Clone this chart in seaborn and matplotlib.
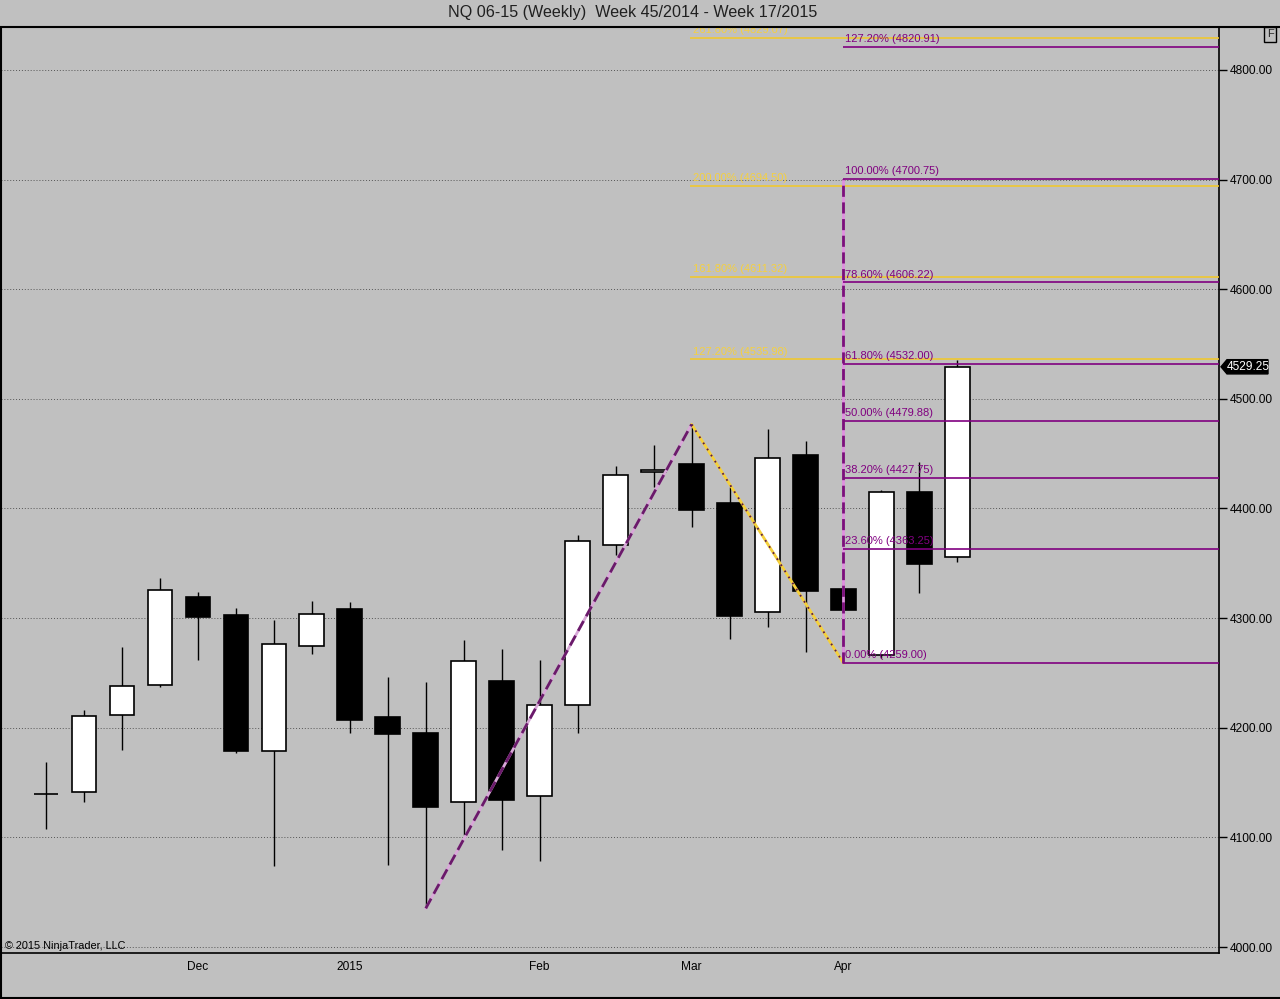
import numpy as np
import pandas as pd
import seaborn as sns
import matplotlib
matplotlib.use('Agg')
import matplotlib.pyplot as plt
import matplotlib.transforms as mtrans
from matplotlib.lines import Line2D
from matplotlib.patches import Polygon

##### Data

weeks = ['2014-11-07', '2014-11-14', '2014-11-21', '2014-11-28', '2014-12-05',
         '2014-12-12', '2014-12-19', '2014-12-26', '2015-01-02', '2015-01-09',
         '2015-01-16', '2015-01-23', '2015-01-30', '2015-02-06', '2015-02-13',
         '2015-02-20', '2015-02-27', '2015-03-06', '2015-03-13', '2015-03-20',
         '2015-03-27', '2015-04-03', '2015-04-10', '2015-04-17', '2015-04-24']

opens  = [4139.0, 4141.0, 4212.0, 4239.0, 4319.0, 4303.0, 4178.5, 4275.0, 4308.0, 4210.0,
          4195.0, 4132.5, 4243.0, 4137.5, 4220.5, 4367.0, 4433.0, 4440.5, 4405.0, 4306.0,
          4449.0, 4327.0, 4266.0, 4415.0, 4356.0]
highs  = [4169.0, 4216.0, 4274.0, 4336.5, 4324.0, 4309.0, 4298.0, 4315.5, 4315.0, 4246.5,
          4242.0, 4280.0, 4272.0, 4262.0, 4376.0, 4439.0, 4458.0, 4476.75, 4420.0, 4472.5,
          4461.5, 4333.0, 4416.5, 4442.0, 4535.5]
lows   = [4108.0, 4132.5, 4180.0, 4237.0, 4262.0, 4177.0, 4074.0, 4267.5, 4195.0, 4075.0,
          4035.25, 4102.0, 4088.5, 4078.5, 4195.0, 4357.5, 4420.0, 4383.0, 4281.0, 4292.0,
          4269.5, 4259.0, 4264.0, 4323.0, 4351.5]
closes = [4140.0, 4210.5, 4238.0, 4326.0, 4301.0, 4179.0, 4276.0, 4303.5, 4207.0, 4194.0,
          4127.5, 4260.5, 4134.5, 4221.0, 4370.0, 4431.0, 4435.5, 4398.5, 4302.0, 4446.5,
          4325.0, 4307.0, 4415.0, 4349.0, 4529.25]

# swing points for the drawing tools (bar index, price)
swing_idx = [10, 17, 21]
swing_px = [4035.25, 4476.75, 4259.00]

# fib retracement (purple) and extension (yellow) levels, as labelled
retr_pct = ['0.00%', '23.60%', '38.20%', '50.00%', '61.80%', '78.60%', '100.00%', '127.20%']
retr_val = [4259.00, 4363.25, 4427.75, 4479.88, 4532.00, 4606.22, 4700.75, 4820.91]
ext_pct = ['127.20%', '161.80%', '200.00%', '261.80%']
ext_val = [4535.98, 4611.32, 4694.50, 4829.07]

month_ticks = ['2014-12-05', '2015-01-02', '2015-02-06', '2015-03-06', '2015-04-03']
month_labels = ['Dec', '2015', 'Feb', 'Mar', 'Apr']

df = pd.DataFrame({'Date': pd.to_datetime(weeks), 'Open': opens, 'High': highs,
                   'Low': lows, 'Close': closes})
df['x'] = np.arange(len(df))

##### Style

sns.set_style('white')
plt.rcParams['font.family'] = ['Liberation Sans', 'DejaVu Sans']

BG = '#C0C0C0'
PURPLE = '#800080'
YELLOW = '#F0C830'

fig = plt.figure(figsize=(12.8, 9.99), dpi=100, facecolor=BG)
ax = fig.add_axes([0.0008, 0.046, 0.9516, 0.926])
ax.set_facecolor(BG)

####### Candles

for y in range(4000, 4801, 100):
    ax.axhline(y, color='#555555', ls=(0, (1, 2)), lw=0.7, zorder=1)

ax.vlines(df['x'], df['Low'], df['High'], color='black', lw=1, zorder=2)

up = df['Close'] >= df['Open']
body_lo = df[['Open', 'Close']].min(axis=1)
body_h = (df['Close'] - df['Open']).abs()
w = 0.65
for i in range(len(df)):
    if body_h[i] < 1.5:
        ax.hlines(df['Close'][i], i - w / 2, i + w / 2, color='black', lw=1.2, zorder=3)
        continue
    ax.bar(i, body_h[i], bottom=body_lo[i], width=w,
           color='white' if up[i] else 'black', edgecolor='black', lw=1.2, zorder=3)

####### Drawing tools

i_low, i_high, i_end = swing_idx
p_low, p_high, p_end = swing_px

# swing up: purple dashes
sns.lineplot(x=[i_low, i_high], y=[p_low, p_high], ax=ax, color='#D8A8D8', lw=2, zorder=5)
ax.plot([i_low, i_high], [p_low, p_high], color='#6A1A6A', lw=2, ls=(0, (4, 2)), zorder=6)
# swing down: yellow with dark dots
sns.lineplot(x=[i_high, i_end], y=[p_high, p_end], ax=ax, color='#F5D03A', lw=2, zorder=5)
ax.plot([i_high, i_end], [p_high, p_end], color='#5A1A4A', lw=1.3, ls=(0, (1, 3)), zorder=6)

x_right = 30.9
for pct, val in zip(ext_pct, ext_val):
    ax.hlines(val, i_high - 0.05, x_right, color=YELLOW, lw=1.2, zorder=6)
    ax.text(i_high + 0.05, val + 2.5, f'{pct} ({val:.2f})', color='#F5D040', fontsize=8,
            va='bottom', ha='left', zorder=7, clip_on=True)

# retracement anchor
ax.vlines(i_end, p_end, retr_val[6], color='#E090E0', lw=2, zorder=7)
ax.vlines(i_end, p_end, retr_val[6], color='#7A107A', lw=2, ls=(0, (4, 2)), zorder=8)
for pct, val in zip(retr_pct, retr_val):
    ax.hlines(val, i_end, x_right, color=PURPLE, lw=1.2, zorder=7)
    ax.text(i_end + 0.05, val + 2.5, f'{pct} ({val:.2f})', color=PURPLE, fontsize=8,
            va='bottom', ha='left', zorder=8, clip_on=True)

####### Axes

ax.set_xlim(-1.184, 30.89)
ax.set_ylim(3994.5, 4838.3)

ax.yaxis.tick_right()
ax.set_yticks(range(4000, 4801, 100))
ax.set_yticklabels([f'{v:.2f}' for v in range(4000, 4801, 100)])
tick_pos = [int(df.index[df['Date'] == pd.Timestamp(d)][0]) for d in month_ticks]
ax.set_xticks(tick_pos)
ax.set_xticklabels(month_labels)
ax.tick_params(axis='both', direction='out', length=6, width=1, colors='black',
               labelsize=8.6, pad=2)
ax.tick_params(axis='x', length=5, pad=1)
ax.tick_params(axis='y', left=False)

for side in ['left', 'right', 'bottom']:
    ax.spines[side].set_color('black')
    ax.spines[side].set_linewidth(1.2)
ax.spines['top'].set_visible(False)

# frame lines
fig.add_artist(Line2D([0, 1], [0.973, 0.973], color='black', lw=1.5, transform=fig.transFigure))
fig.add_artist(Line2D([0, 1], [0.0015, 0.0015], color='black', lw=1.5, transform=fig.transFigure))
fig.add_artist(Line2D([0.0008, 0.0008], [0, 0.973], color='black', lw=1.5, transform=fig.transFigure))

fig.text(0.4945, 0.987, 'NQ 06-15 (Weekly)  Week 45/2014 - Week 17/2015',
         ha='center', va='center', fontsize=11.6, color='#202020')

fig.text(0.9922, 0.9655, 'F', ha='center', va='center', fontsize=8,
         bbox=dict(boxstyle='square,pad=0.25', fc='none', ec='black', lw=1))

ax.text(0.003, 4001, '\u00a9 2015 NinjaTrader, LLC',
        transform=mtrans.blended_transform_factory(ax.transAxes, ax.transData),
        fontsize=7.8, va='center', ha='left', color='black', zorder=9)

# last price marker
last = df['Close'].iloc[-1]
bt = mtrans.blended_transform_factory(fig.transFigure, ax.transData)
hh = 6.5
x0, x1, x2 = 1221 / 1280, 1227 / 1280, 1268 / 1280
ax.add_patch(Polygon([[x0, last], [x1, last + hh], [x2, last + hh], [x2, last - hh], [x1, last - hh]],
                     closed=True, fc='black', ec='black', transform=bt, clip_on=False, zorder=10))
fig.text((x1 + x2) / 2 + 0.0005, last, f'{last:.2f}', color='white', fontsize=8.6,
         ha='center', va='center', transform=bt, zorder=11)

plt.savefig('out.png', dpi=100, facecolor=BG)
